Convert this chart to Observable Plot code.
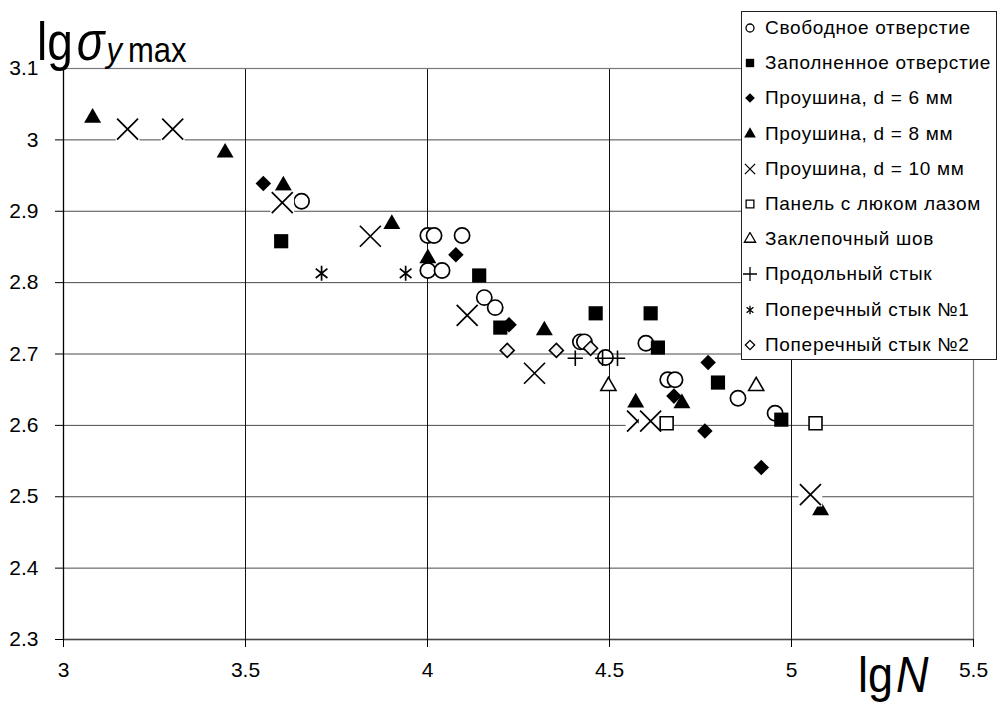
<!DOCTYPE html>
<html>
<head>
<meta charset="utf-8">
<script src="https://cdn.jsdelivr.net/npm/d3@7"></script>
<script src="https://cdn.jsdelivr.net/npm/@observablehq/plot@0.6"></script>
<style>
  body { margin: 0; background: #fff; }
  #wrap { position: relative; width: 1000px; height: 704px; overflow: hidden; background: #fff;
          font-family: "Liberation Sans", Arial, sans-serif; }
  .legend { position: absolute; left: 741px; top: 11px; width: 256px; height: 349px;
            border: 1px solid #222; background: #fff; box-sizing: border-box; }
  .legend .row { position: absolute; left: 0; height: 24px; display: flex; align-items: center;
                 white-space: nowrap; font-size: 19px; letter-spacing: 0.7px; color: #000; }
  .legend svg { display: block; margin-left: 1px; margin-right: 8px; }
</style>
</head>
<body>
<div id="wrap"></div>
<script>
// ---------- data ----------
const xTicks = [3, 3.5, 4, 4.5, 5, 5.5];
const yTicks = [2.3, 2.4, 2.5, 2.6, 2.7, 2.8, 2.9, 3.0, 3.1];
const xGrid = [3.5, 4, 4.5, 5];

const seriesNames = [
  "Свободное отверстие",
  "Заполненное отверстие",
  "Проушина, d = 6 мм",
  "Проушина, d = 8 мм",
  "Проушина, d = 10 мм",
  "Панель с люком лазом",
  "Заклепочный шов",
  "Продольный стык",
  "Поперечный стык №1",
  "Поперечный стык №2"
];

// [lgN, lg sigma]
const freeHole = [[3.654,2.914],[4.001,2.866],[4.018,2.866],[4.095,2.866],[4.001,2.817],[4.040,2.817],
  [4.156,2.779],[4.186,2.765],[4.420,2.717],[4.431,2.717],[4.489,2.695],[4.600,2.715],
  [4.660,2.664],[4.680,2.664],[4.853,2.638],[4.955,2.617]];
const filledHole = [[3.598,2.858],[4.142,2.810],[4.200,2.737],[4.462,2.757],[4.613,2.757],
  [4.633,2.709],[4.798,2.660],[4.972,2.608]];
const lug6 = [[3.549,2.939],[4.078,2.839],[4.224,2.741],[4.771,2.688],[4.677,2.641],
  [4.762,2.592],[4.917,2.541]];
const lug8 = [[3.080,3.031],[3.444,2.982],[3.604,2.936],[3.902,2.882],[4.001,2.834],
  [4.321,2.733],[4.572,2.632],[4.699,2.631],[5.080,2.481]];
const lug10 = [[3.176,3.015],[3.300,3.015],[3.601,2.912],[3.843,2.865],[4.109,2.754],
  [4.294,2.673],[4.577,2.606],[4.613,2.606],[5.052,2.503]];
const hatchPanel = [[4.657,2.603],[5.066,2.603]];
const rivetSeam = [[4.497,2.655],[4.903,2.655]];
const longJoint = [[4.406,2.694],[4.481,2.694],[4.522,2.694]];
const transJoint1 = [[3.709,2.813],[3.940,2.813]];
const transJoint2 = [[4.219,2.705],[4.354,2.705],[4.448,2.708]];

// ---------- chart ----------
const X = d => d[0], Y = d => d[1];
const ink = "#000";

// Excel-like asterisk: a vertical stroke crossed by an X
const starSymbol = {
  draw(context, size) {
    const r = Math.sqrt(size / Math.PI);
    const a = r * 0.78, b = r * 0.62;
    context.moveTo(0, -r); context.lineTo(0, r);
    context.moveTo(-a, -b); context.lineTo(a, b);
    context.moveTo(-a, b); context.lineTo(a, -b);
  }
};

const timesMarks = lug10.flatMap(p => [
  Plot.dot([p], {x: X, y: Y, symbol: "square", r: 13.4, fill: "white", stroke: "none"}),
  Plot.dot([p], {x: X, y: Y, symbol: "times", r: 9.6, stroke: ink, strokeWidth: 1.7, fill: "none"})
]);

const chart = Plot.plot({
  width: 1000,
  height: 704,
  marginLeft: 63,
  marginRight: 27,
  marginTop: 68,
  marginBottom: 65,
  x: {domain: [3, 5.5]},
  y: {domain: [2.3, 3.1]},
  style: {fontFamily: "'Liberation Sans', Arial, sans-serif", background: "white", color: "black", overflow: "visible"},
  marks: [
    Plot.gridY(yTicks, {stroke: "#4a4a4a", strokeOpacity: 1, strokeWidth: 1}),
    Plot.gridX(xGrid, {stroke: "#111", strokeOpacity: 1, strokeWidth: 1}),
    Plot.frame({stroke: "#7a7a7a", strokeWidth: 1.2}),
    Plot.ruleX([3], {stroke: ink, strokeWidth: 1.2}),
    Plot.ruleY([2.3], {stroke: "#444", strokeWidth: 1.6}),
    Plot.axisX(xTicks, {tickSize: 8, tickPadding: 15, fontSize: 21, label: null, tickFormat: d => String(d), stroke: ink}),
    Plot.axisY(yTicks, {tickSize: 8, tickPadding: 17, fontSize: 21, label: null, tickFormat: d => String(d), stroke: ink}),

    Plot.dot(freeHole, {x: X, y: Y, symbol: "circle", r: 7.6, fill: "white", stroke: ink, strokeWidth: 1.7}),
    Plot.dot(filledHole, {x: X, y: Y, symbol: "square", r: 8.0, fill: ink, stroke: "none"}),
    Plot.dot(lug6, {x: X, y: Y, symbol: "diamond2", r: 7.0, fill: ink, stroke: "none"}),
    Plot.dot(lug8, {x: X, y: Y, symbol: "triangle", r: 6.3, fill: ink, stroke: "none"}),
    ...timesMarks,
    Plot.dot(hatchPanel, {x: X, y: Y, symbol: "square", r: 7.3, fill: "white", stroke: ink, strokeWidth: 1.6}),
    Plot.dot(rivetSeam, {x: X, y: Y, symbol: "triangle", r: 5.6, fill: "white", stroke: ink, strokeWidth: 1.6}),
    Plot.dot(longJoint, {x: X, y: Y, symbol: "plus", r: 5.0, fill: "none", stroke: ink, strokeWidth: 1.6}),
    Plot.dot(transJoint1, {x: X, y: Y, symbol: starSymbol, r: 7.5, fill: "none", stroke: ink, strokeWidth: 1.7}),
    Plot.dot(transJoint2, {x: X, y: Y, symbol: "diamond2", r: 6.3, fill: "#f2f2f2", stroke: ink, strokeWidth: 1.6})
  ]
});

const wrap = document.getElementById("wrap");
wrap.appendChild(chart);

// axis titles as real text inside the svg
const svg = d3.select(chart);
const ylab = svg.append("text")
  .attr("transform", "translate(37,60) scale(1,1.15)")
  .attr("fill", "#000")
  .attr("text-anchor", "start")
  .style("font-family", "'Liberation Sans', Arial, sans-serif");
ylab.append("tspan").attr("font-size", 46).text("lg");
ylab.append("tspan").attr("font-size", 46).attr("font-style", "italic").attr("dx", 4).text("σ");
ylab.append("tspan").attr("font-size", 31).attr("font-style", "italic").attr("dx", 2).attr("dy", 2).text("y");
ylab.append("tspan").attr("font-size", 31).attr("dx", 6).text("max");

const xlab = svg.append("text")
  .attr("transform", "translate(858,692) scale(1,1.12)")
  .attr("fill", "#000")
  .attr("text-anchor", "start")
  .style("font-family", "'Liberation Sans', Arial, sans-serif");
xlab.append("tspan").attr("font-size", 45).text("lg");
xlab.append("tspan").attr("font-size", 45).attr("font-style", "italic").attr("dx", 3).text("N");

// legend
const legendSymbols = [
  {type: d3.symbolCircle, size: 50, fill: "white", stroke: ink},
  {type: d3.symbolSquare, size: 70, fill: ink, stroke: "none"},
  {type: d3.symbolDiamond2, size: 60, fill: ink, stroke: "none"},
  {type: d3.symbolTriangle, size: 60, fill: ink, stroke: "none"},
  {type: d3.symbolTimes, size: 70, fill: "none", stroke: ink},
  {type: d3.symbolSquare, size: 60, fill: "white", stroke: ink},
  {type: d3.symbolTriangle, size: 55, fill: "white", stroke: ink},
  {type: d3.symbolPlus, size: 70, fill: "none", stroke: ink},
  {type: starSymbol, size: 60, fill: "none", stroke: ink},
  {type: d3.symbolDiamond2, size: 55, fill: "white", stroke: ink}
];
const legend = d3.select(wrap).append("div").attr("class", "legend");
seriesNames.forEach((name, i) => {
  const center = 28 + 35.2 * i - 12;
  const row = legend.append("div").attr("class", "row").style("top", (center - 12) + "px");
  const s = row.append("svg").attr("width", 14).attr("height", 14);
  const sym = legendSymbols[i];
  s.append("path")
    .attr("transform", "translate(7,7)")
    .attr("d", d3.symbol(sym.type, sym.size)())
    .attr("fill", sym.fill)
    .attr("stroke", sym.stroke)
    .attr("stroke-width", 1.3);
  row.append("span").text(name);
});
</script>
</body>
</html>
